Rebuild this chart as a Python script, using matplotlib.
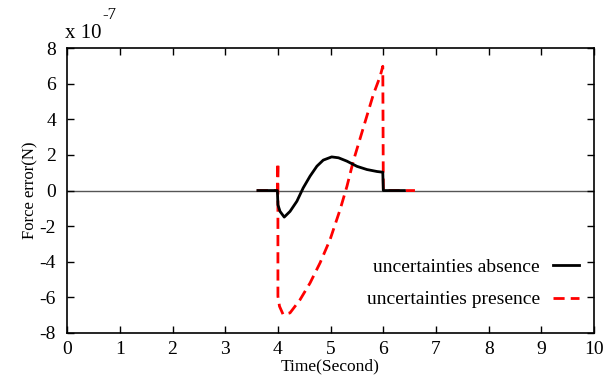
import matplotlib
matplotlib.use("Agg")
import matplotlib.pyplot as plt

plt.rcParams['font.family'] = ['Liberation Serif', 'DejaVu Serif']
plt.rcParams['axes.unicode_minus'] = False

# values in units of 1e-7 N
t_absence = [3.62, 3.99, 4.0, 4.04, 4.12, 4.23, 4.36, 4.48, 4.61, 4.74, 4.86, 5.02, 5.15,
             5.31, 5.50, 5.69, 5.88, 5.99, 6.0, 6.4]
f_absence = [0.0, 0.0, -0.8, -1.17, -1.49, -1.17, -0.60, 0.15, 0.81, 1.37, 1.71, 1.89, 1.84,
             1.65, 1.36, 1.18, 1.07, 1.03, 0.0, 0.0]

t_presence = [3.6, 3.99, 4.0, 4.0, 4.03, 4.10, 4.23, 4.42, 4.61, 4.80, 4.99, 5.18, 5.31,
              5.43, 5.62, 5.81, 5.94, 5.99, 6.0, 6.6]
f_presence = [0.0, 0.0, 1.56, -5.94, -6.5, -6.97, -6.87, -6.13, -5.19, -4.06, -2.75, -1.07, 0.24,
              1.65, 3.52, 5.39, 6.42, 6.98, 0.0, 0.0]

x_ticks = list(range(0, 11))
y_ticks = [-8, -6, -4, -2, 0, 2, 4, 6, 8]

fig = plt.figure(figsize=(6.1, 3.76), dpi=100)
ax = fig.add_axes([0.110, 0.1144, 0.864, 0.7576])

ax.axhline(0, color='#555555', lw=1.0, zorder=1)
ax.plot(t_presence, f_presence, color='red', lw=2, dashes=(4, 2.2), zorder=2,
        label='uncertainties presence')
ax.plot(t_absence, f_absence, color='black', lw=2, zorder=3,
        label='uncertainties absence')

ax.set_xlim(0, 10)
ax.set_ylim(-8, 8)
ax.set_xticks(x_ticks)
ax.set_yticks(y_ticks)
ax.tick_params(direction='in', length=5, width=1, labelsize=14, top=True, right=True)
ax.tick_params(axis='x', pad=6)
ax.tick_params(axis='y', pad=8)
for s in ax.spines.values():
    s.set_linewidth(1.2)

ax.set_xlabel('Time(Second)', fontsize=12.5, labelpad=0)
ax.set_ylabel('Force error(N)', fontsize=12, labelpad=1)

h, l = ax.get_legend_handles_labels()
ax.legend(h[::-1], l[::-1], loc='lower right', bbox_to_anchor=(1.004, 0.025), frameon=False,
          fontsize=14, markerfirst=False, handlelength=1.3, labelspacing=0.76,
          handletextpad=0.7)

fig.text(65 / 610, 1 - 33 / 376, 'x 10', fontsize=15, va='center', ha='left')
fig.text(102 / 610, 1 - 15 / 376, '-7', fontsize=12, va='center', ha='left')

fig.savefig('out.png', dpi=100)
